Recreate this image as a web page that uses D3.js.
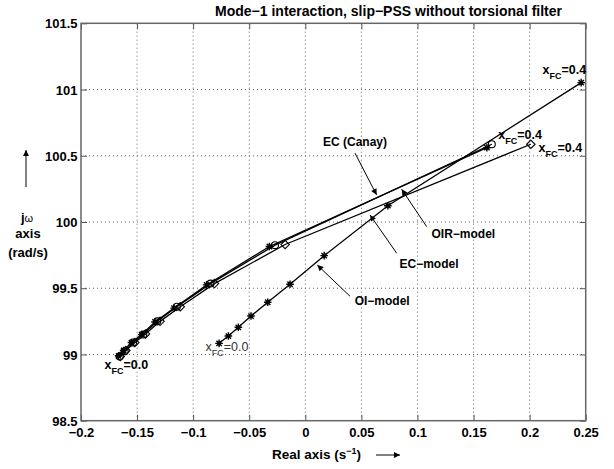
<!DOCTYPE html>
<html>
<head>
<meta charset="utf-8">
<script src="https://cdn.jsdelivr.net/npm/d3@7"></script>
<style>
  body { margin: 0; background: #fff; }
  text { font-family: "Liberation Sans", Arial, Helvetica, sans-serif; }
</style>
</head>
<body>
<svg id="chart" width="614" height="469"></svg>
<script>
// Axis ticks
const xTicks = [-0.2, -0.15, -0.1, -0.05, 0, 0.05, 0.1, 0.15, 0.2, 0.25];
const yTicks = [98.5, 99, 99.5, 100, 100.5, 101, 101.5];

// Root loci of the torsional mode-1 eigenvalue, x_FC = 0.0 ... 0.4
const ecCanayRe = [-0.1655, -0.1610, -0.1535, -0.1445, -0.1320, -0.1145, -0.0845, -0.0270, 0.1663];
const ecCanayIm = [98.985, 99.025, 99.090, 99.150, 99.250, 99.360, 99.535, 99.825, 100.587];

const ecModelRe = [-0.1650, -0.1600, -0.1520, -0.1425, -0.1295, -0.1115, -0.0810, -0.0180, 0.2011];
const ecModelIm = [98.985, 99.030, 99.090, 99.155, 99.250, 99.360, 99.535, 99.830, 100.587];

const oirModelRe = [-0.1665, -0.1620, -0.1550, -0.1460, -0.1340, -0.1170, -0.0880, -0.0320, 0.1619];
const oirModelIm = [98.990, 99.030, 99.090, 99.150, 99.245, 99.350, 99.525, 99.815, 100.561];

const oiModelRe = [-0.0769, -0.0686, -0.0597, -0.0484, -0.0335, -0.0136, 0.0168, 0.0736, 0.2460];
const oiModelIm = [99.084, 99.139, 99.205, 99.290, 99.394, 99.530, 99.746, 100.123, 101.052];

const W = 614, H = 469;
const margin = { left: 81, right: 614 - 585.7, top: 23.3, bottom: 469 - 420.7 };

const svg = d3.select("#chart");
const x = d3.scaleLinear().domain([-0.2, 0.25]).range([margin.left, W - margin.right]);
const y = d3.scaleLinear().domain([98.5, 101.5]).range([H - margin.bottom, margin.top]);

const x0 = x.range()[0], x1 = x.range()[1];
const y0 = y.range()[0], y1 = y.range()[1];

// Dotted grid
const grid = svg.append("g").attr("stroke", "#666").attr("stroke-width", 1).attr("stroke-dasharray", "1,3");
grid.selectAll("line.vx").data(xTicks.slice(1, -1)).join("line")
  .attr("x1", d => x(d)).attr("x2", d => x(d)).attr("y1", y0).attr("y2", y1);
grid.selectAll("line.hy").data(yTicks.slice(1, -1)).join("line")
  .attr("x1", x0).attr("x2", x1).attr("y1", d => y(d)).attr("y2", d => y(d));

// Axes with inward ticks and bold labels
const fmt = d => d3.format("")(d).replace("-", "\u2212");
const xAxis = svg.append("g").attr("transform", `translate(0,${y0})`)
  .call(d3.axisBottom(x).tickValues(xTicks).tickSize(-6).tickPadding(10).tickFormat(fmt));
const xAxisTop = svg.append("g").attr("transform", `translate(0,${y1})`)
  .call(d3.axisTop(x).tickValues(xTicks).tickSize(-6).tickFormat(""));
const yAxis = svg.append("g").attr("transform", `translate(${x0},0)`)
  .call(d3.axisLeft(y).tickValues(yTicks).tickSize(-6).tickPadding(3.5).tickFormat(fmt));
const yAxisRight = svg.append("g").attr("transform", `translate(${x1},0)`)
  .call(d3.axisRight(y).tickValues(yTicks).tickSize(-6).tickFormat(""));

[xAxis, xAxisTop, yAxis, yAxisRight].forEach(g => {
  g.select(".domain").remove();
  g.selectAll(".tick line").attr("stroke", "#555").attr("stroke-width", 1);
  g.selectAll("text").attr("font-size", 13).attr("font-weight", "bold").attr("fill", "#000");
});
xAxis.selectAll("text").attr("dy", "0.45em");
yAxis.selectAll("text").attr("dy", "0.36em");

// Frame
svg.append("rect").attr("x", x0).attr("y", y1).attr("width", x1 - x0).attr("height", y0 - y1)
  .attr("fill", "none").attr("stroke", "#666").attr("stroke-width", 1.5);

// Marker shapes
const starPath = r => {
  const a = r * 0.7;
  return `M${-r},0L${r},0M0,${-r}L0,${r}M${-a},${-a}L${a},${a}M${-a},${a}L${a},${-a}`;
};
const diamondPath = r => `M0,${-r}L${r},0L0,${r}L${-r},0Z`;

const line = d3.line().x(d => x(d[0])).y(d => y(d[1]));
const zip = (a, b) => a.map((v, i) => [v, b[i]]);

const series = [
  { re: ecCanayRe, im: ecCanayIm, marker: "circle" },
  { re: ecModelRe, im: ecModelIm, marker: "diamond" },
  { re: oirModelRe, im: oirModelIm, marker: "star" },
  { re: oiModelRe, im: oiModelIm, marker: "star" }
];

const plot = svg.append("g");
series.forEach(s => {
  const pts = zip(s.re, s.im);
  plot.append("path").datum(pts).attr("d", line)
    .attr("fill", "none").attr("stroke", "#000").attr("stroke-width", 1.3);
  const m = plot.selectAll(null).data(pts).join("path")
    .attr("transform", d => `translate(${x(d[0])},${y(d[1])})`)
    .attr("fill", "none").attr("stroke", "#000").attr("stroke-width", 1.1);
  if (s.marker === "circle") m.attr("d", d3.symbol(d3.symbolCircle, 38)());
  else if (s.marker === "diamond") m.attr("d", diamondPath(4.2));
  else m.attr("d", starPath(3.8)).attr("stroke-width", 1.4);
});

// Title
svg.append("text").attr("x", 562).attr("y", 16).attr("text-anchor", "end")
  .attr("font-size", 14).attr("font-weight", "bold").text("Mode\u22121 interaction, slip\u2212PSS without torsional filter");

// Axis labels
const xl = svg.append("text").attr("x", 272).attr("y", 459).attr("font-size", 13.5).attr("font-weight", "bold");
xl.append("tspan").text("Real axis (s");
xl.append("tspan").attr("dy", -5).attr("font-size", 9).text("\u22121");
xl.append("tspan").attr("dy", 5).text(")");

const yl = svg.append("g").attr("font-size", 13).attr("font-weight", "bold").attr("text-anchor", "middle");
const jw = yl.append("text").attr("x", 27).attr("y", 222);
jw.append("tspan").text("j");
jw.append("tspan").attr("font-weight", "normal").attr("font-size", 11).text("\u03c9");
yl.append("text").attr("x", 28).attr("y", 238).text("axis");
yl.append("text").attr("x", 28).attr("y", 257).text("(rad/s)");

// Arrow heads
const defs = svg.append("defs");
defs.append("marker").attr("id", "ah").attr("viewBox", "0 0 10 10").attr("refX", 10).attr("refY", 5)
  .attr("markerWidth", 9).attr("markerHeight", 6).attr("markerUnits", "userSpaceOnUse").attr("orient", "auto")
  .append("path").attr("d", "M0,0L10,5L0,10Z").attr("fill", "#000");

const arrow = (xa, ya, xb, yb) => svg.append("line")
  .attr("x1", xa).attr("y1", ya).attr("x2", xb).attr("y2", yb)
  .attr("stroke", "#000").attr("stroke-width", 1).attr("marker-end", "url(#ah)");

// Axis direction arrows
arrow(26, 187, 26, 150);
arrow(376, 455, 400, 455);

// Model annotations (data coordinates)
const notes = [
  { text: "EC (Canay)", tx: 0.0443, ty: 100.575, anchor: "middle", from: [0.0443, 100.52], to: [0.0636, 100.204] },
  { text: "OIR\u2212model", tx: 0.1125, ty: 99.88, anchor: "start", from: [0.1082, 99.965], to: [0.0859, 100.247] },
  { text: "EC\u2212model", tx: 0.0840, ty: 99.655, anchor: "start", from: [0.0815, 99.764], to: [0.0577, 100.053] },
  { text: "OI\u2212model", tx: 0.0440, ty: 99.37, anchor: "start", from: [0.0398, 99.44], to: [0.0107, 99.675] }
];
notes.forEach(n => {
  svg.append("text").attr("x", x(n.tx)).attr("y", y(n.ty)).attr("text-anchor", n.anchor)
    .attr("font-size", 12).attr("font-weight", "bold").text(n.text);
  arrow(x(n.from[0]), y(n.from[1]), x(n.to[0]), y(n.to[1]));
});

// x_FC labels at the ends of the loci
const fcLabels = [
  { v: "0.4", re: 0.2115, im: 101.115, bold: true },
  { v: "0.4", re: 0.1720, im: 100.630, bold: true },
  { v: "0.4", re: 0.2080, im: 100.530, bold: true },
  { v: "0.0", re: -0.1790, im: 98.887, bold: true },
  { v: "0.0", re: -0.0890, im: 99.025, bold: false }
];
fcLabels.forEach(l => {
  const t = svg.append("text").attr("x", x(l.re)).attr("y", y(l.im))
    .attr("font-size", 12.5).attr("font-weight", l.bold ? "bold" : "normal")
    .attr("fill", l.bold ? "#000" : "#333");
  t.append("tspan").text("x");
  t.append("tspan").attr("dy", 5).attr("font-size", 9).text("FC");
  t.append("tspan").attr("dy", -5).text("=" + l.v);
});
</script>
</body>
</html>
